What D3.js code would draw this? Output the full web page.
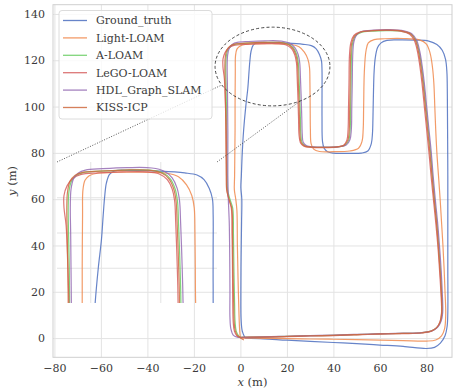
<!DOCTYPE html>
<html><head><meta charset="utf-8">
<script src="https://cdn.jsdelivr.net/npm/d3@7"></script>
<style>
html,body{margin:0;padding:0;background:#fff;}
svg{display:block;}
text{font-family:"DejaVu Serif",serif;}
</style></head>
<body>
<svg id="chart" width="453" height="389"></svg>
<script>
// ---------------- data ----------------
const seriesNames = ["Ground_truth","Light-LOAM","A-LOAM","LeGO-LOAM","HDL_Graph_SLAM","KISS-ICP"];
const seriesColors = ["#4c6fc0","#f0894d","#6acc64","#d65f5f","#956cb4","#cf6a3e"];
const xTicks = [-80,-60,-40,-20,0,20,40,60,80];
const yTicks = [0,20,40,60,80,100,120,140];
const insetXTicks = [0,20];
const insetYTicks = [100,110,120];

const groundTruth = [[2,0],[10,-0.3],[20,-0.9],[30,-1.4],[40,-1.9],[50,-2.4],[60,-3],[70,-3.6],[80,-4.5],[83.5,-4],[86,-2.2],[88,1],[88.9,5],[89.2,11],[89.2,30],[89.2,50],[89.2,70],[89.1,90],[89,105],[88.8,115],[88.2,120.5],[86.8,124.3],[84.5,126.8],[81,128.3],[75,128.7],[68,128.8],[63,128.6],[60.5,127.5],[59,125.5],[58,121],[57.5,115],[57.2,105],[57,95],[56.8,88.5],[56.3,84],[54.8,80.8],[52,79.9],[45,79.8],[40,79.9],[37.5,80.5],[36,82],[35.3,85],[35.1,95],[35.1,105],[35.1,115],[34.9,119.5],[34,122.5],[32.5,125],[30.5,126.3],[27,126.9],[20,127.4],[12,127.6],[7,127.5],[5.5,126.5],[4.6,124],[4.1,120],[3.7,115],[3.2,108],[2.3,100],[1.4,90],[0.8,80],[0.4,70],[0.2,65],[0.6,60],[0.5,50],[0.3,35],[0.2,20],[0.3,8],[0.8,3],[2,0]];

const lightLoam = [[0,0],[10,-0.1],[20,-0.2],[30,-0.4],[40,-0.5],[50,-0.7],[60,-0.9],[70,-1.1],[80,-1.3],[84,-0.8],[86.5,1],[87.8,4],[88.3,10],[88,20],[87.6,30],[87.1,40],[86.5,50],[85.9,60],[85.2,70],[84.5,80],[84,90],[83.6,100],[83.2,110],[82.6,117],[81.6,123],[80,127],[77,128.8],[70,129.4],[62,129.3],[57.5,128.9],[55,127.5],[54,124],[53.3,115],[53,100],[52.8,90],[52.3,85],[50.8,82],[47,80.8],[40,80.5],[34,80.6],[31.5,81.6],[30.4,84],[30.1,90],[30,100],[29.9,110],[29.7,117],[29,120.5],[27.5,123.5],[25.2,125.8],[22,126.8],[15,127.1],[8,127.1],[2,126.8],[-0.3,126.1],[-1.5,124.8],[-2.1,122],[-2.2,115],[-2.3,100],[-2.3,90],[-2.4,80],[-2.5,70],[-2.6,64],[-2,60],[-1.5,55],[-1.3,40],[-1,25],[-0.6,10],[-0.3,3],[0,0]];

const aLoam = [[0,0.3],[10,0.5],[20,0.7],[30,1],[40,1.2],[50,1.5],[60,1.8],[70,2],[78,2.3],[82,3],[84.5,4.5],[86,7],[86.7,11],[86.5,20],[86,30],[85.3,40],[84.5,50],[83.5,60],[82.6,70],[81.8,80],[80.8,90],[79.8,100],[78.8,110],[77.8,118],[76.8,124],[75.5,128.5],[73.5,131.2],[70,132.4],[64,132.8],[57,132.6],[52,132],[49.5,130.5],[48.3,127.5],[47.8,122],[47.6,110],[47.4,100],[47.2,90],[46.6,85.5],[45,83.3],[42,82.6],[36,82.4],[31,82.5],[28,83],[26.5,84.5],[26,88],[25.8,95],[25.5,105],[25.2,113],[24.9,119],[24.2,122.5],[22.8,125.3],[20.5,127],[17,127.7],[10,127.7],[3,127.4],[-2,127],[-4,126.2],[-5.4,124.5],[-6.1,121.5],[-6.3,117],[-6.2,110],[-6,100],[-5.9,90],[-5.8,80],[-5.7,70],[-5.5,64],[-4.5,60],[-3.3,56],[-3,45],[-2.8,30],[-2.5,15],[-2.3,7],[-1.8,3],[-0.8,1],[0,0.3]];

const legoLoam = [[0,0.2],[10,0.4],[20,0.6],[30,0.9],[40,1.1],[50,1.4],[60,1.7],[70,1.9],[78,2.2],[82,2.9],[84.3,4.4],[85.8,7],[86.5,11],[86.2,20],[85.6,30],[84.9,40],[84,50],[83,60],[82,70],[81.1,80],[80.1,90],[79.1,100],[78.1,110],[77.1,118],[76.1,124],[74.8,128.5],[72.8,131.2],[69.3,132.5],[63.3,133],[56.3,132.8],[51.3,132.2],[48.8,130.7],[47.5,127.6],[46.9,122],[46.7,110],[46.5,100],[46.3,90],[45.8,85.5],[44.3,83.2],[41.3,82.5],[35.3,82.3],[30.3,82.4],[27.3,82.9],[25.8,84.4],[25.2,88],[25,95],[24.7,105],[24.4,113],[24.1,119],[23.4,122.3],[22,125],[19.7,126.6],[16.2,127.2],[9.2,127.2],[2.2,126.9],[-2.8,126.4],[-5,125.3],[-6.6,123.3],[-7.5,120.5],[-7.5,117],[-6.9,112],[-6.4,100],[-6.1,90],[-6,80],[-5.9,70],[-5.8,64],[-5,60],[-3.9,56],[-3.6,45],[-3.4,30],[-3.3,15],[-3.1,7],[-2.6,3],[-1.4,0.8],[0,0.2]];

const hdlGraphSlam = [[-1,0.3],[10,0.5],[20,0.8],[30,1.1],[40,1.3],[50,1.6],[60,1.9],[70,2.1],[78,2.4],[82.3,3.1],[84.8,4.6],[86.3,7.2],[87,11],[86.8,20],[86.3,30],[85.6,40],[84.8,50],[83.8,60],[82.9,70],[82.1,80],[81.1,90],[80.1,100],[79.1,110],[78.1,118],[77.1,124],[75.8,128.6],[73.8,131.4],[70.3,132.7],[64.3,133.2],[57.3,133],[52.3,132.4],[50,131],[48.8,128],[48.3,122],[48.1,110],[47.9,100],[47.7,90],[47.1,85.7],[45.5,83.4],[42.5,82.7],[36.5,82.5],[31.5,82.6],[28.5,83.1],[27,84.6],[26.6,88],[26.4,95],[26.1,105],[25.8,113],[25.5,119],[24.8,122.6],[23.4,125.5],[21.1,127.4],[17.6,128.3],[10.6,128.4],[3.6,128.1],[-1.4,127.7],[-3.4,126.9],[-4.8,125.2],[-5.5,122.2],[-5.7,117],[-5.6,110],[-5.5,100],[-5.4,90],[-5.4,80],[-5.4,70],[-5.3,64],[-5.2,60],[-4.8,50],[-4.6,35],[-4.5,20],[-4.5,9],[-4.1,4],[-3,1.2],[-1,0.3]];

const kissIcp = [[1.5,-0.8],[0,0.2],[10,0.4],[20,0.7],[30,1],[40,1.2],[50,1.5],[60,1.8],[70,2],[78,2.3],[82,3],[84.4,4.5],[85.9,7],[86.6,11],[86.4,20],[85.8,30],[85.1,40],[84.3,50],[83.3,60],[82.4,70],[81.5,80],[80.5,90],[79.5,100],[78.5,110],[77.5,118],[76.5,124],[75.2,128.6],[73.2,131.4],[69.7,132.6],[63.7,133],[56.7,132.8],[51.7,132.2],[49.2,130.6],[47.9,127.5],[47.4,122],[47.2,110],[47,100],[46.8,90],[46.2,85.5],[44.6,83.3],[41.6,82.6],[35.6,82.4],[30.6,82.5],[27.6,83],[26.1,84.5],[25.6,88],[25.4,95],[25.1,105],[24.8,113],[24.5,119],[23.8,122.5],[22.4,125.3],[20.1,127],[16.6,127.7],[9.6,127.7],[2.6,127.4],[-2.4,127],[-4.4,126.2],[-5.8,124.5],[-6.5,121.5],[-6.7,117],[-6.6,110],[-6.4,100],[-6.3,90],[-6.2,80],[-6.1,70],[-5.9,64],[-4.9,60],[-3.7,56],[-3.4,45],[-3.2,30],[-2.9,15],[-2.7,7],[-2.2,3],[-1.2,1],[0,0.2]];

const seriesData = [groundTruth, lightLoam, aLoam, legoLoam, hdlGraphSlam, kissIcp];

// zoom ellipse (data units) and connector ellipse angles (degrees)
const ellipseCenter = [13.8, 117.3];
const ellipseRadii = [24.7, 17];
const connectorAngles = [208, -61];

// ---------------- layout ----------------
const svg = d3.select("#chart");
const M = {left:53, right:452, top:4.7, bottom:357.3};
const x = d3.scaleLinear().domain([-80.6, 91]).range([M.left, M.right]);
const y = d3.scaleLinear().domain([-8.3, 144]).range([M.bottom, M.top]);

const gridColor = "#e3e3e3";
const spineColor = "#cfcfcf";
const textColor = "#3a3a3a";
const fmt = d => (d < 0 ? "\u2212" + Math.abs(d) : String(d));

svg.append("defs").append("clipPath").attr("id","mainclip")
  .append("rect").attr("x",M.left).attr("y",M.top).attr("width",M.right-M.left).attr("height",M.bottom-M.top);

// grid via axes
const gx = svg.append("g").attr("transform",`translate(0,${M.bottom})`)
  .call(d3.axisBottom(x).tickValues(xTicks).tickSize(-(M.bottom-M.top)).tickFormat(fmt).tickPadding(7));
gx.select(".domain").remove();
gx.selectAll("line").attr("stroke",gridColor).attr("stroke-width",1);
gx.selectAll("text").attr("fill",textColor).attr("font-size","11px").attr("font-family","DejaVu Serif");

const gy = svg.append("g").attr("transform",`translate(${M.left},0)`)
  .call(d3.axisLeft(y).tickValues(yTicks).tickSize(-(M.right-M.left)).tickFormat(fmt).tickPadding(8));
gy.select(".domain").remove();
gy.selectAll("line").attr("stroke",gridColor).attr("stroke-width",1);
gy.selectAll("text").attr("fill",textColor).attr("font-size","11px").attr("font-family","DejaVu Serif");

// spines
svg.append("rect").attr("x",M.left).attr("y",M.top).attr("width",M.right-M.left).attr("height",M.bottom-M.top)
  .attr("fill","none").attr("stroke",spineColor).attr("stroke-width",1);

// main trajectories
const line = d3.line().x(d=>x(d[0])).y(d=>y(d[1])).curve(d3.curveCatmullRom.alpha(0.5));
const mainG = svg.append("g").attr("clip-path","url(#mainclip)");
seriesData.forEach((s,i)=>{
  mainG.append("path").datum(s).attr("d",line).attr("fill","none")
    .attr("stroke",seriesColors[i]).attr("stroke-width",1.2).attr("stroke-opacity",0.85)
    .attr("stroke-linejoin","round");
});

// ellipse
const ecx = x(ellipseCenter[0]), ecy = y(ellipseCenter[1]);
const erx = x(ellipseCenter[0]+ellipseRadii[0]) - ecx, ery = ecy - y(ellipseCenter[1]+ellipseRadii[1]);
svg.append("ellipse").attr("cx",ecx).attr("cy",ecy).attr("rx",erx).attr("ry",ery)
  .attr("fill","none").attr("stroke","#333").attr("stroke-width",0.9).attr("stroke-dasharray","3,2.2");

// ---------------- inset ----------------
const I = {left:57, right:217, top:162, bottom:303};
const ix = d3.scaleLinear().domain([-9.5, 36.2]).range([I.left, I.right]);
const iy = d3.scaleLinear().domain([90, 130]).range([I.bottom, I.top]);
svg.select("defs").append("clipPath").attr("id","insetclip")
  .append("rect").attr("x",I.left).attr("y",I.top).attr("width",I.right-I.left).attr("height",I.bottom-I.top);
const inset = svg.append("g");
const igx = inset.append("g").attr("transform",`translate(0,${I.bottom})`)
  .call(d3.axisBottom(ix).tickValues(insetXTicks).tickSize(-(I.bottom-I.top)).tickFormat(""));
igx.select(".domain").remove();
igx.selectAll("line").attr("stroke",gridColor).attr("stroke-width",1);
const igy = inset.append("g").attr("transform",`translate(${I.left},0)`)
  .call(d3.axisLeft(iy).tickValues(insetYTicks).tickSize(-(I.right-I.left)).tickFormat(""));
igy.select(".domain").remove();
igy.selectAll("line").attr("stroke",gridColor).attr("stroke-width",1);

const iline = d3.line().x(d=>ix(d[0])).y(d=>iy(d[1])).curve(d3.curveCatmullRom.alpha(0.5));
const insetG = inset.append("g").attr("clip-path","url(#insetclip)");
seriesData.forEach((s,i)=>{
  insetG.append("path").datum(s).attr("d",iline).attr("fill","none")
    .attr("stroke",seriesColors[i]).attr("stroke-width",1.2).attr("stroke-opacity",0.85)
    .attr("stroke-linejoin","round");
});

// connectors
const corners = [[I.left, I.top],[I.right, I.top]];
connectorAngles.forEach((a,k)=>{
  const r = a*Math.PI/180;
  const px = x(ellipseCenter[0] + ellipseRadii[0]*Math.cos(r));
  const py = y(ellipseCenter[1] + ellipseRadii[1]*Math.sin(r));
  svg.append("line").attr("x1",corners[k][0]).attr("y1",corners[k][1]).attr("x2",px).attr("y2",py)
    .attr("stroke","#444").attr("stroke-width",0.9).attr("stroke-dasharray","1,1.6");
});

// ---------------- legend ----------------
const lg = svg.append("g");
lg.append("rect").attr("x",59).attr("y",10.5).attr("width",153).attr("height",108.5).attr("rx",3)
  .attr("fill","#fff").attr("fill-opacity",0.8).attr("stroke","#dcdcdc").attr("stroke-width",1);
seriesNames.forEach((n,i)=>{
  const yy = 20.5 + i*17.4;
  lg.append("line").attr("x1",63).attr("x2",87).attr("y1",yy).attr("y2",yy)
    .attr("stroke",seriesColors[i]).attr("stroke-width",1.3).attr("stroke-opacity",0.85);
  lg.append("text").attr("x",96).attr("y",yy).attr("dy","0.35em").attr("font-size","11px")
    .attr("fill",textColor).text(n);
});

// ---------------- axis labels ----------------
const xl = svg.append("text").attr("x",(M.left+M.right)/2).attr("y",386).attr("text-anchor","middle")
  .attr("font-size","11.5px").attr("fill",textColor);
xl.append("tspan").attr("font-style","italic").text("x");
xl.append("tspan").text(" (m)");
const yl = svg.append("text").attr("transform",`translate(16,${(M.top+M.bottom)/2}) rotate(-90)`)
  .attr("text-anchor","middle").attr("font-size","11.5px").attr("fill",textColor);
yl.append("tspan").attr("font-style","italic").text("y");
yl.append("tspan").text(" (m)");
</script>
</body></html>
